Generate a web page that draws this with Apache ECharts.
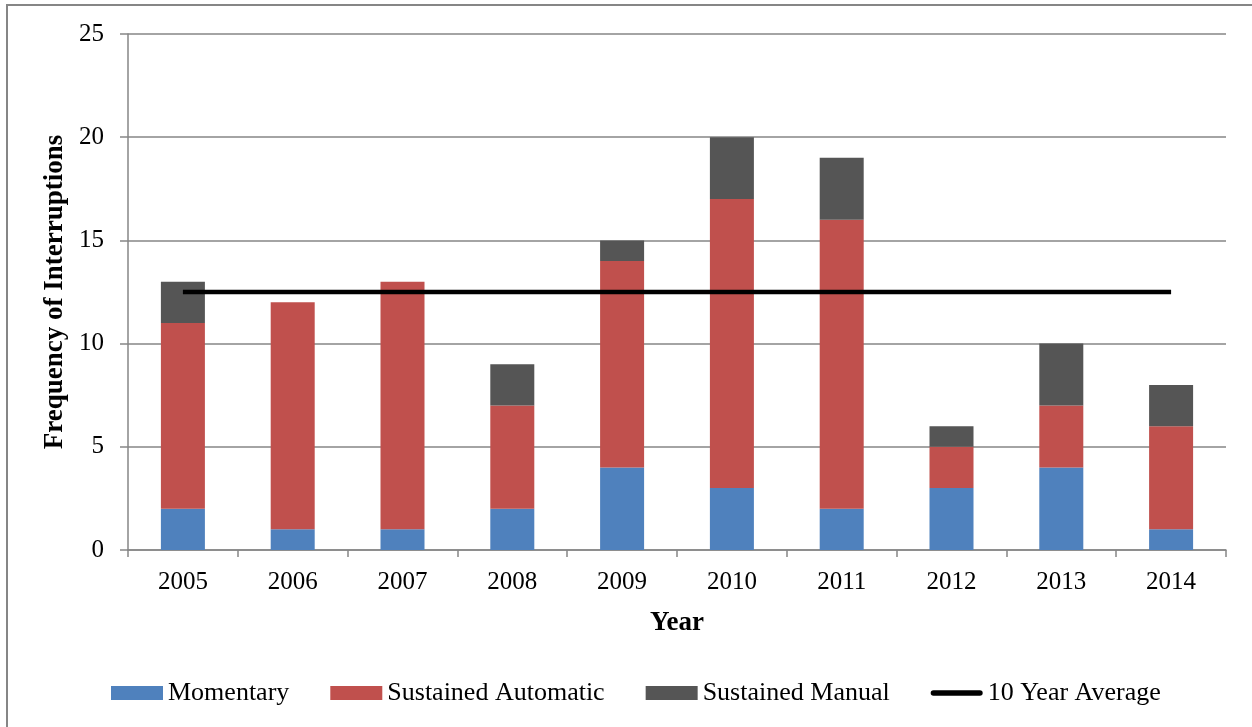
<!DOCTYPE html>
<html>
<head>
<meta charset="utf-8">
<script src="https://cdn.jsdelivr.net/npm/echarts@6/dist/echarts.min.js"></script>
<style>
  html, body { margin: 0; padding: 0; background: #fff; }
  #chart { width: 1252px; height: 727px; }
</style>
</head>
<body>
<div id="chart"></div>
<script>
// chart data
var years = ['2005', '2006', '2007', '2008', '2009', '2010', '2011', '2012', '2013', '2014'];
var momentary = [2, 1, 1, 2, 4, 3, 2, 3, 4, 1];
var sustainedAutomatic = [9, 11, 12, 5, 10, 14, 14, 2, 3, 5];
var sustainedManual = [2, 0, 0, 2, 1, 3, 3, 1, 3, 2];
var tenYearAverage = [12.5, 12.5, 12.5, 12.5, 12.5, 12.5, 12.5, 12.5, 12.5, 12.5];

var font = '"Liberation Serif", "Times New Roman", serif';
var chart = echarts.init(document.getElementById('chart'));

var option = {
  animation: false,
  textStyle: { fontFamily: font, color: '#000' },
  graphic: [
    {
      type: 'rect',
      shape: { x: 7, y: 5, width: 1400, height: 900 },
      style: { fill: 'none', stroke: '#868686', lineWidth: 2 },
      silent: true
    }
  ],
  grid: {
    left: 128,
    right: 26,
    top: 34,
    bottom: 177
  },
  legend: {
    left: 106,
    top: 675,
    itemWidth: 52,
    itemHeight: 14,
    itemGap: 41,
    textStyle: { fontFamily: font, fontSize: 26, color: '#000' },
    data: [
      { name: 'Momentary', icon: 'rect' },
      { name: 'Sustained Automatic', icon: 'rect' },
      { name: 'Sustained Manual', icon: 'rect' },
      { name: '10 Year Average', icon: 'path://M3,0 h50 a3,3 0 0 1 0,6 h-50 a3,3 0 0 1 0,-6 Z' }
    ]
  },
  xAxis: {
    type: 'category',
    data: years,
    name: 'Year',
    nameLocation: 'middle',
    nameGap: 60,
    nameTextStyle: { fontFamily: font, fontSize: 27, fontWeight: 'bold', color: '#000' },
    axisLine: { lineStyle: { color: '#868686', width: 1.5 } },
    axisTick: { show: true, length: 7, lineStyle: { color: '#868686', width: 1.5 } },
    axisLabel: { fontFamily: font, fontSize: 25, color: '#000', margin: 20 }
  },
  yAxis: {
    type: 'value',
    min: 0,
    max: 25,
    interval: 5,
    name: 'Frequency of Interruptions',
    nameLocation: 'middle',
    nameGap: 56,
    nameTextStyle: { fontFamily: font, fontSize: 27, fontWeight: 'bold', color: '#000' },
    axisLine: { show: true, lineStyle: { color: '#868686', width: 1.5 } },
    axisTick: { show: true, length: 8, lineStyle: { color: '#868686', width: 1.5 } },
    axisLabel: { fontFamily: font, fontSize: 25, color: '#000', margin: 24 },
    splitLine: { lineStyle: { color: '#868686', width: 1.5 } }
  },
  series: [
    {
      name: 'Momentary',
      type: 'bar',
      stack: 'total',
      barWidth: 44,
      data: momentary,
      itemStyle: { color: '#4f81bd' }
    },
    {
      name: 'Sustained Automatic',
      type: 'bar',
      stack: 'total',
      barWidth: 44,
      data: sustainedAutomatic,
      itemStyle: { color: '#c0504d' }
    },
    {
      name: 'Sustained Manual',
      type: 'bar',
      stack: 'total',
      barWidth: 44,
      data: sustainedManual,
      itemStyle: { color: '#555555' }
    },
    {
      name: '10 Year Average',
      type: 'line',
      symbol: 'none',
      data: tenYearAverage,
      lineStyle: { color: '#000', width: 4.5 },
      itemStyle: { color: '#000' },
      z: 5
    }
  ]
};

chart.setOption(option);
</script>
</body>
</html>
